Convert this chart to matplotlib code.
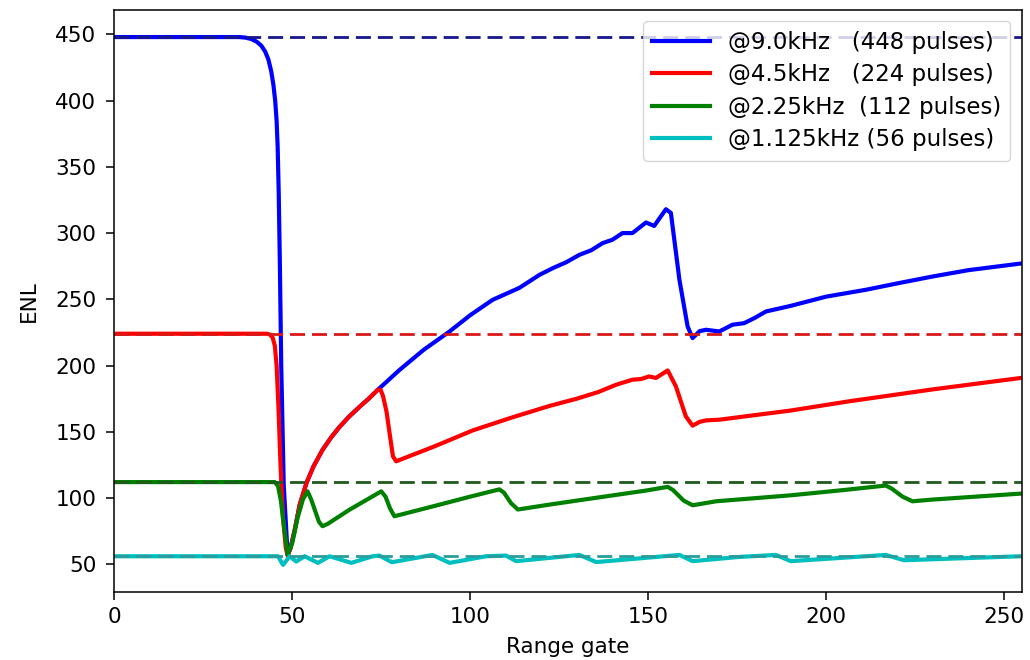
import matplotlib
matplotlib.use("Agg")
import matplotlib.pyplot as plt

# ENL per range gate (x = range gate, y = ENL)
blue_x = [0, 35, 36.8, 38.5, 40, 41.3, 42.4, 43.3, 44.1, 44.7, 45.2, 45.6, 45.9, 46.2, 46.5, 46.9, 47.6,
          48.7, 49.5, 50.7, 52.1, 54.0, 56, 58.5, 61, 63.3, 66, 68.9, 71.5, 74.0,
          80.2, 87, 94.1, 100, 106.3, 113.8, 119.5, 123.2, 127, 130.7, 134, 137.2, 140, 142.8, 145.6,
          149.4, 151.7, 155.0, 156.4, 158.8, 161.1, 162.5, 164.5, 166.3, 170, 173.7, 177, 180, 183.1,
          190, 200, 211.2, 220, 229.9, 240, 254.7]
blue_y = [448, 448, 447.6, 446.5, 444.5, 441.5, 437, 431, 422, 412, 400, 385, 365, 330, 280, 200, 110,
          57, 62, 76, 95, 111.4, 124, 136.3, 146, 153.7, 161.5, 168.8, 175, 181.6,
          196.8, 212, 225.5, 238, 249.6, 258.6, 268.5, 273.5, 278, 283.6, 287, 292.4, 295, 300, 300,
          308, 305.4, 318, 315.2, 264.7, 229.5, 220.7, 226, 227, 225.7, 230.8, 232, 236, 240.8,
          245, 252, 257.2, 262, 267.2, 272, 277]

red_x = [0, 43.0, 43.8, 44.5, 45.1, 45.6, 46.1, 46.7, 47.4, 48.2, 48.7, 49.5, 50.7, 52.1, 54.0, 56, 58.5,
         61, 63.3, 66, 68.9, 71.5, 74.0, 74.8, 75.5, 76.5, 77.4, 78.3, 79.2,
         90, 100.7, 112, 122.3, 130, 136, 141, 145.6, 148, 150.3, 152.2, 155.5, 157.8, 160.6, 162.5,
         164.5, 166.3, 170, 190, 206.5, 230, 254.7]
red_y = [224, 224, 223.2, 221, 215, 200, 170, 125, 85, 62, 56.5, 62, 76, 95, 111.4, 124, 136.3,
         146, 153.7, 161.5, 168.8, 175, 181.6, 181.8, 177, 165, 148, 131.4, 127.7,
         139, 151, 161, 169.5, 175, 180, 185.5, 189.3, 189.8, 191.8, 190.6, 196.3, 184.3, 161.6, 154.6,
         157.5, 158.6, 159.1, 166, 173, 182, 190.6]

green_x = [0, 45.1, 46.0, 46.8, 47.6, 48.7, 50, 51.5, 53, 54.3, 55.3, 57.5, 58.5, 60, 66, 75.0, 76.2, 77.5,
           78.7, 90, 100, 108.2, 109.5, 111.5, 113.4, 122.3, 135, 149.4, 155.5, 157, 160, 162.5, 169.1,
           190, 205, 216.8, 218.5, 221.5, 224.3, 229.9, 254.7]
green_y = [112, 112, 109, 98, 80, 57.5, 66, 85, 99, 105, 99, 82, 78.7, 80.5, 91, 105, 101, 92,
           86.2, 94, 101, 106.5, 104, 96, 91.3, 95, 100, 105.6, 108.4, 106, 98, 94.5, 97.5,
           102, 106, 109.4, 107, 101, 97.5, 98.8, 103.3]

cyan_x = [0, 46, 47.4, 49.3, 51.1, 53.5, 57.2, 60.5, 66.6, 72.6, 74.5, 78.0, 89.4, 94.2, 104.5, 110.1,
          112.9, 130.7, 135.4, 158.8, 162.5, 175.6, 185.9, 190.1, 216.8, 221.9, 254.7]
cyan_y = [56, 56, 49.5, 56, 52, 56, 51, 56, 51, 56, 56.5, 51.5, 57, 51, 56, 56.5,
          52.3, 57, 51.6, 57, 52.3, 55.5, 57, 52.3, 57, 53, 56]

labels = ["@9.0kHz   (448 pulses)", "@4.5kHz   (224 pulses)",
          "@2.25kHz  (112 pulses)", "@1.125kHz (56 pulses)"]
levels = [448, 224, 112, 56]

plt.rcParams['font.size'] = 15.5

fig = plt.figure(figsize=(10.3, 6.6), dpi=100)
ax = fig.add_axes([0.111, 0.103, 0.881, 0.882])

ax.plot(blue_x, blue_y, color='b', lw=3, label=labels[0])
ax.plot(red_x, red_y, color='r', lw=3, label=labels[1])
ax.plot(green_x, green_y, color='g', lw=3, label=labels[2])
ax.plot(cyan_x, cyan_y, color='c', lw=3, label=labels[3])

# reference levels (number of pulses)
dash_colors = ['#16168a', '#d81818', '#1e5a1e', '#2a9c9c']
for lev, col in zip(levels, dash_colors):
    ax.axhline(lev, color=col, lw=2, linestyle=(0, (5.4, 2.5)))

ax.set_xlim(0, 255)
ax.set_ylim(29, 468.5)
ax.set_xticks([0, 50, 100, 150, 200, 250])
ax.set_yticks([50, 100, 150, 200, 250, 300, 350, 400, 450])
ax.tick_params(length=6, width=1.1)
ax.tick_params(axis='y', pad=7)
ax.tick_params(axis='x', pad=5)
for s in ax.spines.values():
    s.set_linewidth(1.1)

ax.set_xlabel("Range gate", labelpad=7)
ax.set_ylabel("ENL", labelpad=12)
ax.legend(loc='upper right', handlelength=2.5, fontsize=16.5, labelspacing=0.42)

fig.savefig("out.png", dpi=100)
